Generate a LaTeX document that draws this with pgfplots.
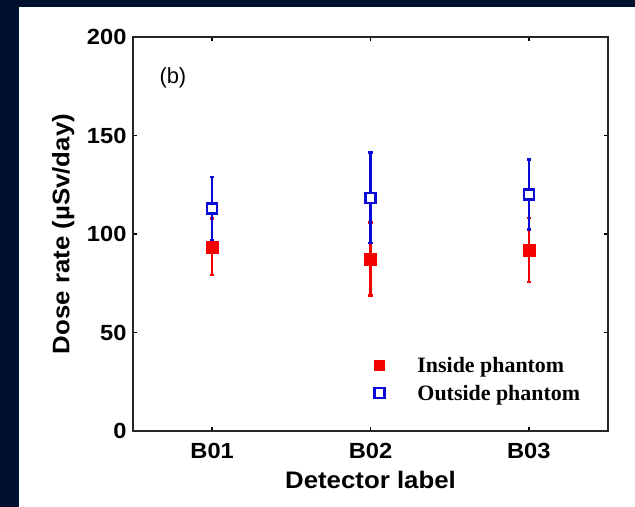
\documentclass[border=0pt]{standalone}
\usepackage{fontspec}
\setmainfont{Liberation Sans}
\newfontfamily\legfont{Liberation Serif}
\newfontfamily\widesans[FakeStretch=1.08]{Liberation Sans}
\usepackage{pgfplots}
\pgfplotsset{compat=1.18}
\definecolor{navy}{RGB}{0,17,48}
\definecolor{myred}{RGB}{245,0,0}
\definecolor{myblue}{RGB}{10,10,215}

\pgfplotstableread{
x y e
1 113.0 16.0
2 118.4 23.0
3 120.0 17.8
}\outside
\pgfplotstableread{
x y e
1 93.5 14.4
2 87.3 18.5
3 91.9 16.3
}\inside

\begin{document}
\begin{tikzpicture}
\fill[white] (0bp,0bp) rectangle (635bp,-507bp);
\fill[navy] (0bp,0bp) rectangle (19bp,-507bp);
\fill[navy] (0bp,0bp) rectangle (635bp,-7bp);
\begin{axis}[
  at={(133bp,-431bp)}, anchor=south west,
  scale only axis, width=475bp, height=394bp,
  xmin=0.5, xmax=3.5, ymin=0, ymax=200,
  xtick={1,2,3}, xticklabels={B01,B02,B03},
  ytick={0,50,100,150,200},
  tick align=inside, major tick length=4bp,
  axis line style={line width=2bp, black!85},
  tick style={line width=1.5bp, black},
  /pgf/number format/assume math mode=true,
  ticklabel style={font=\widesans\fontsize{22}{22}\selectfont\bfseries},
  yticklabel style={xshift=-3bp},
  xticklabel style={yshift=-9bp},
  xlabel={Detector label},
  ylabel={Dose rate (µSv/day)},
  label style={font=\widesans\fontsize{24}{24}\selectfont\bfseries},
  xlabel style={at={(axis description cs:0.5,-0.124)}, anchor=center},
  ylabel style={at={(axis description cs:-0.147,0.5)}, anchor=center},
  legend style={draw=none, fill=none, at={(axis description cs:0.505,0.193)}, anchor=north west,
    font=\legfont\bfseries\fontsize{22}{24}\selectfont, row sep=7bp, inner sep=0pt},
  legend cell align=left,
  legend image code/.code={\draw[#1, mark repeat=1, line width=1.5bp, mark size=5bp] plot coordinates {(0bp,0bp)}; \path (-6bp,0bp) (36bp,0bp);},
]
\addplot[only marks, color=myred, mark=square*, mark size=6bp,
  mark options={fill=myred, draw=myred, line width=0.5bp},
  error bars/.cd, y dir=both, y explicit,
  error bar style={line width=2.5bp, myred},
  error mark options={rotate=90, mark size=2.2bp, line width=2.5bp, myred}]
  table[x=x, y=y, y error=e] {\inside};
\addlegendentry{Inside phantom}
\addplot[only marks, color=myblue, mark=square*, mark size=5bp,
  mark options={fill=white, draw=myblue, line width=2.5bp},
  error bars/.cd, y dir=both, y explicit,
  error bar style={line width=2.5bp, myblue},
  error mark options={rotate=90, mark size=2.2bp, line width=2.5bp, myblue}]
  table[x=x, y=y, y error=e] {\outside};
\addlegendentry{Outside phantom}
\addplot[forget plot, only marks, color=myred, mark=square*, mark size=6bp,
  mark options={fill=myred, draw=myred, line width=0.5bp}]
  table[x=x, y=y] {\inside};
\node[font=\fontsize{22}{22}\selectfont] at (axis description cs:0.084,0.896) {(b)};
\end{axis}
\pgfresetboundingbox
\path[use as bounding box] (0bp,0bp) rectangle (635bp,-507bp);
\end{tikzpicture}
\end{document}
